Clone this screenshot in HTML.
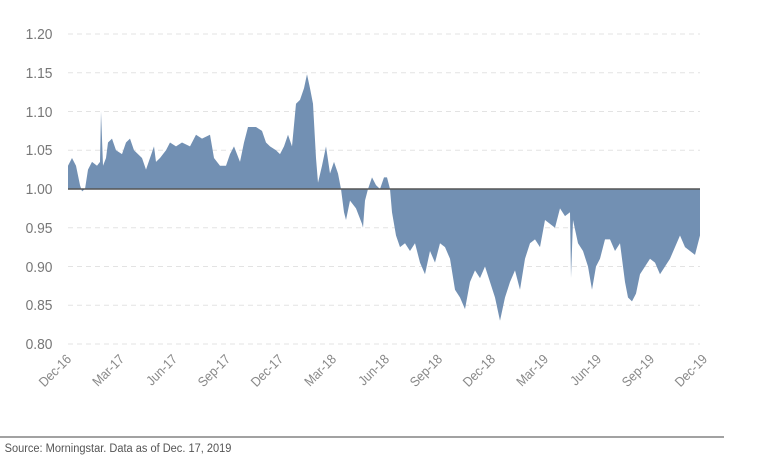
<!DOCTYPE html>
<html><head><style>
body{margin:0;background:#fff;}
svg{display:block;font-family:"Liberation Sans",sans-serif;}
</style></head><body>
<svg width="758" height="469" viewBox="0 0 758 469">
<g stroke="#e3e3e3" stroke-width="1" stroke-dasharray="5,4">
<line x1="68" x2="700" y1="34" y2="34"/><line x1="68" x2="700" y1="72.75" y2="72.75"/><line x1="68" x2="700" y1="111.5" y2="111.5"/><line x1="68" x2="700" y1="150.25" y2="150.25"/><line x1="68" x2="700" y1="227.75" y2="227.75"/><line x1="68" x2="700" y1="266.5" y2="266.5"/><line x1="68" x2="700" y1="305.25" y2="305.25"/><line x1="68" x2="700" y1="344" y2="344"/>
</g>
<g font-size="15" fill="#777" text-anchor="end" transform="scale(0.92,1)">
<text x="57" y="39">1.20</text><text x="57" y="78">1.15</text><text x="57" y="117">1.10</text><text x="57" y="155">1.05</text><text x="57" y="194">1.00</text><text x="57" y="233">0.95</text><text x="57" y="272">0.90</text><text x="57" y="310">0.85</text><text x="57" y="349">0.80</text>
</g>
<g transform="translate(0,189) scale(1,-775)">
<polygon fill="#7290b3" points="68,0 68,0.03 72,0.04 76,0.03 80,0.005 82,-0.003 85,0 88,0.025 92,0.035 97,0.03 100,0.035 101,0.10 103,0.03 106,0.04 108,0.06 112,0.065 116,0.05 122,0.045 126,0.06 130,0.065 134,0.05 138,0.045 142,0.04 146,0.025 150,0.04 154,0.055 156,0.035 160,0.04 166,0.05 170,0.06 176,0.055 182,0.06 190,0.055 196,0.07 202,0.065 210,0.07 214,0.04 220,0.03 226,0.03 230,0.045 234,0.055 240,0.035 244,0.06 248,0.08 256,0.08 262,0.075 266,0.06 270,0.055 276,0.05 280,0.045 284,0.055 288,0.07 292,0.055 296,0.11 300,0.115 304,0.13 307,0.148 310,0.13 313,0.11 316,0.04 318,0.008 322,0.03 326,0.055 330,0.02 334,0.035 338,0.02 341,0 344,-0.03 346,-0.04 350,-0.015 356,-0.025 362,-0.045 363,-0.05 365,-0.015 368,0 372,0.015 376,0.005 380,0 384,0.015 387,0.015 390,0 392,-0.03 396,-0.06 400,-0.075 405,-0.07 410,-0.08 415,-0.07 420,-0.095 425,-0.11 430,-0.08 435,-0.095 440,-0.07 445,-0.075 450,-0.09 455,-0.13 460,-0.14 465,-0.155 470,-0.12 475,-0.105 480,-0.115 485,-0.1 490,-0.12 495,-0.14 500,-0.17 505,-0.14 510,-0.12 515,-0.105 520,-0.13 525,-0.09 530,-0.07 535,-0.065 540,-0.075 545,-0.04 550,-0.045 555,-0.05 560,-0.025 565,-0.035 570,-0.03 571,-0.115 573,-0.04 578,-0.07 583,-0.08 588,-0.1 592,-0.13 596,-0.1 600,-0.09 605,-0.065 610,-0.065 615,-0.08 620,-0.07 625,-0.12 628,-0.14 632,-0.145 636,-0.135 640,-0.11 645,-0.1 650,-0.09 655,-0.095 660,-0.11 665,-0.1 670,-0.09 675,-0.075 680,-0.06 685,-0.075 690,-0.08 695,-0.085 698,-0.07 700,-0.06 700,0"/>
</g>
<line x1="68" x2="700" y1="189" y2="189" stroke="#555" stroke-width="1.5"/>
<g font-size="13.5" fill="#888" text-anchor="end">
<text transform="translate(72,360) rotate(-45) scale(0.9,1)">Dec-16</text>
<text transform="translate(125,360) rotate(-45) scale(0.9,1)">Mar-17</text>
<text transform="translate(178,360) rotate(-45) scale(0.9,1)">Jun-17</text>
<text transform="translate(231,360) rotate(-45) scale(0.9,1)">Sep-17</text>
<text transform="translate(284,360) rotate(-45) scale(0.9,1)">Dec-17</text>
<text transform="translate(337,360) rotate(-45) scale(0.9,1)">Mar-18</text>
<text transform="translate(390,360) rotate(-45) scale(0.9,1)">Jun-18</text>
<text transform="translate(443,360) rotate(-45) scale(0.9,1)">Sep-18</text>
<text transform="translate(496,360) rotate(-45) scale(0.9,1)">Dec-18</text>
<text transform="translate(549,360) rotate(-45) scale(0.9,1)">Mar-19</text>
<text transform="translate(602,360) rotate(-45) scale(0.9,1)">Jun-19</text>
<text transform="translate(655,360) rotate(-45) scale(0.9,1)">Sep-19</text>
<text transform="translate(708,360) rotate(-45) scale(0.9,1)">Dec-19</text>
</g>
<line x1="0" x2="724" y1="437" y2="437" stroke="#444" stroke-width="1"/>
<text x="5" y="452" font-size="12" fill="#555" transform="scale(0.92,1)">Source: Morningstar. Data as of Dec. 17, 2019</text>
</svg>
</body></html>
